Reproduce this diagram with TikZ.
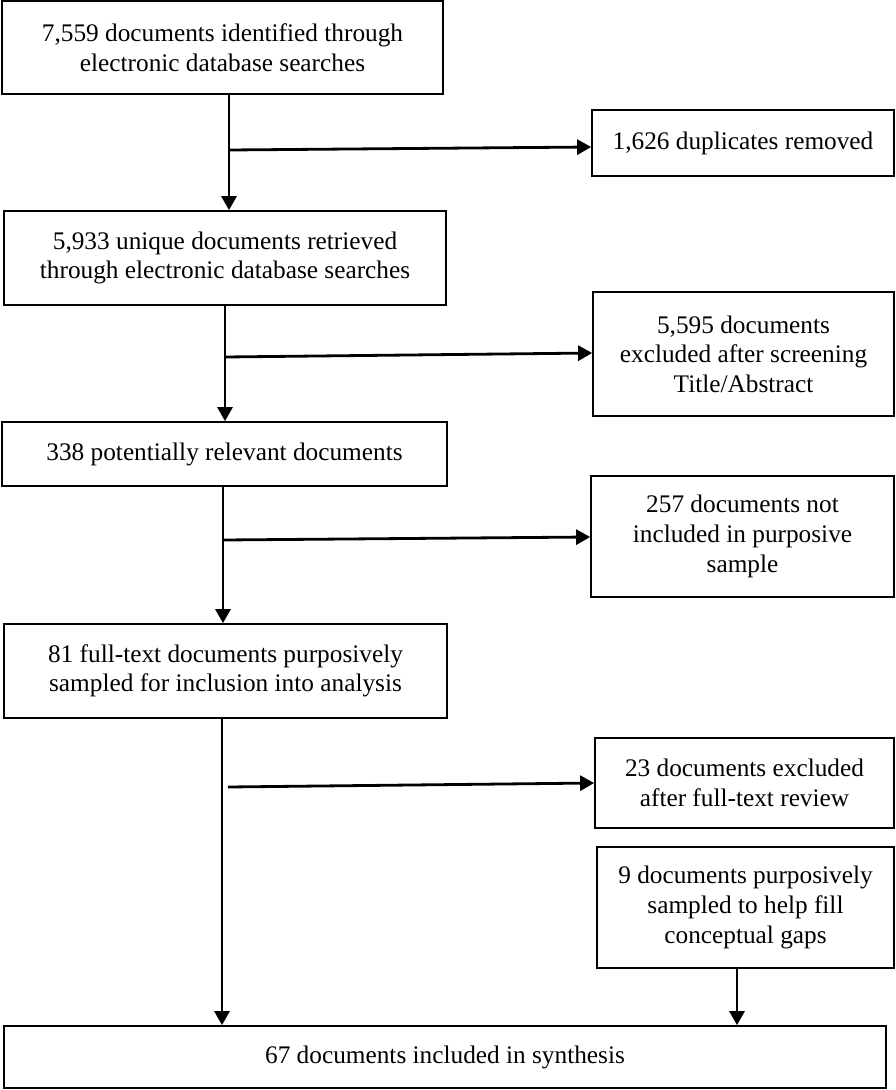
\documentclass[tikz,border=0pt]{standalone}
\usepackage{fontspec}
\setmainfont{Liberation Serif}
\usetikzlibrary{arrows.meta}
\begin{document}
\begin{tikzpicture}[x=1pt,y=-1pt,
  box/.style={draw, line width=1.7pt, inner sep=0pt, align=center, font=\fontsize{25.3}{29.6}\selectfont},
  conn/.style={line width=2.8pt},
  arr/.style={conn, -{Triangle[length=14pt,width=15pt]}}]
\useasboundingbox (0,0) rectangle (896,1090);
\fill[white] (0,0) rectangle (896,1090);
\node[box, minimum width=441pt, minimum height=93pt] (b1) at (222.5,47.5) {7,559 documents identified through\\electronic database searches};
\node[box, minimum width=302pt, minimum height=66pt] (b2) at (743,143) {1,626 duplicates removed};
\node[box, minimum width=442pt, minimum height=94pt] (b3) at (225,258) {5,933 unique documents retrieved\\through electronic database searches};
\node[box, minimum width=301pt, minimum height=124pt] (b4) at (743.5,354) {5,595 documents\\excluded after screening\\Title/Abstract};
\node[box, minimum width=445pt, minimum height=64pt] (b5) at (224.5,454) {338 potentially relevant documents};
\node[box, minimum width=303pt, minimum height=121pt] (b6) at (742.5,536.5) {257 documents not\\included in purposive\\sample};
\node[box, minimum width=443pt, minimum height=94pt] (b7) at (225.5,671) {81 full-text documents purposively\\sampled for inclusion into analysis};
\node[box, minimum width=299pt, minimum height=90pt] (b8) at (744.5,783) {23 documents excluded\\after full-text review};
\node[box, minimum width=297pt, minimum height=121pt] (b9) at (745.5,907.5) {9 documents purposively\\sampled to help fill\\conceptual gaps};
\node[box, minimum width=882pt, minimum height=62pt] (b10) at (445,1057) {67 documents included in synthesis};
\coordinate (c1) at (229,150);
\coordinate (t1) at (0,147);
\coordinate (c2) at (225,357);
\coordinate (t2) at (0,353);
\coordinate (c3) at (223,540);
\coordinate (t3) at (0,537);
\coordinate (c4) at (222,787);
\coordinate (s4) at (228,787);
\coordinate (t4) at (0,783);
\coordinate (c5) at (737,1000);
\draw[arr] (b1.south -| c1) -- (b3.north -| c1);
\draw[arr] (c1) -- (b2.west |- t1);
\draw[arr] (b3.south -| c2) -- (b5.north -| c2);
\draw[arr] (c2) -- (b4.west |- t2);
\draw[arr] (b5.south -| c3) -- (b7.north -| c3);
\draw[arr] (c3) -- (b6.west |- t3);
\draw[arr] (b7.south -| c4) -- (b10.north -| c4);
\draw[arr] (s4) -- (b8.west |- t4);
\draw[arr] (b9.south -| c5) -- (b10.north -| c5);
\end{tikzpicture}
\end{document}
